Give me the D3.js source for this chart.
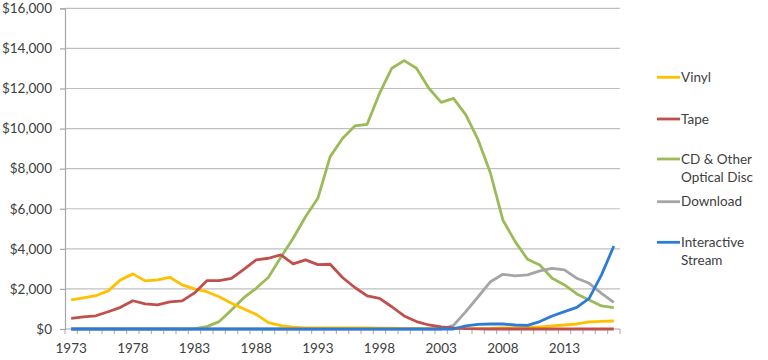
<!DOCTYPE html>
<html>
<head>
<meta charset="utf-8">
<script src="https://cdn.jsdelivr.net/npm/d3@7"></script>
<style>
  html, body { margin: 0; padding: 0; background: #fff; }
  svg { display: block; }
  text { font-family: Lato, "Open Sans", sans-serif; }
</style>
</head>
<body>
<svg id="chart" width="768" height="360"></svg>
<script>
const years = d3.range(1973, 2018);
const tickYears = [1973, 1978, 1983, 1988, 1993, 1998, 2003, 2008, 2013];
const yTicks = [0, 2000, 4000, 6000, 8000, 10000, 12000, 14000, 16000];

const vinyl = [1450, 1550, 1660, 1900, 2450, 2750, 2400, 2450, 2580, 2200,
  2000, 1860, 1610, 1280, 1000, 730, 320, 170, 90, 60,
  50, 50, 50, 50, 50, 40, 40, 30, 30, 20,
  20, 20, 20, 20, 30, 60, 60, 90, 110, 150,
  200, 250, 350, 380, 400];
const tape = [530, 610, 660, 860, 1080, 1410, 1250, 1200, 1350, 1400,
  1800, 2410, 2410, 2530, 2980, 3450, 3530, 3700, 3250, 3450,
  3210, 3230, 2570, 2070, 1650, 1530, 1110, 650, 370, 200,
  100, 50, 20, 10, 0, 0, 0, 0, 0, 0,
  0, 0, 0, 0, 0];
const cd = [0, 0, 0, 0, 0, 0, 0, 0, 0, 0,
  20, 120, 370, 950, 1560, 2030, 2580, 3580, 4530, 5600,
  6520, 8600, 9500, 10130, 10210, 11750, 13010, 13390, 13010, 12010,
  11310, 11510, 10680, 9430, 7770, 5440, 4360, 3480, 3190, 2530,
  2200, 1750, 1450, 1150, 1070];
const download = [0, 0, 0, 0, 0, 0, 0, 0, 0, 0,
  0, 0, 0, 0, 0, 0, 0, 0, 0, 0,
  0, 0, 0, 0, 0, 0, 0, 0, 0, 0,
  0, 180, 870, 1610, 2360, 2730, 2650, 2700, 2900, 3030,
  2950, 2530, 2280, 1780, 1330];
const stream = [0, 0, 0, 0, 0, 0, 0, 0, 0, 0,
  0, 0, 0, 0, 0, 0, 0, 0, 0, 0,
  0, 0, 0, 0, 0, 0, 0, 0, 0, 0,
  0, 0, 160, 230, 250, 250, 200, 180, 370, 650,
  870, 1080, 1530, 2700, 4140];

const seriesNames = ["Vinyl", "Tape", "CD & Other Optical Disc", "Download", "Interactive Stream"];
const seriesLabelLines = [["Vinyl"], ["Tape"], ["CD & Other", "Optical Disc"], ["Download"], ["Interactive", "Stream"]];
const seriesColors = ["#FFC000", "#C0504D", "#9BBB59", "#A5A5A5", "#2E7BD6"];
const seriesValues = [vinyl, tape, cd, download, stream];
const drawOrder = [2, 3, 0, 1, 4];

(function () {
const svg = d3.select("#chart");
const mLeft = 65, mRight = 620, mTop = 8.3, mBottom = 329;

const x = d3.scaleBand().domain(years).range([mLeft, mRight]).paddingInner(0).paddingOuter(0);
const y = d3.scaleLinear().domain([0, 16000]).range([mBottom, mTop]);

svg.append("g").selectAll("line").data(yTicks.filter(d => d > 0)).join("line")
  .attr("x1", mLeft).attr("x2", mRight)
  .attr("y1", d => y(d)).attr("y2", d => y(d))
  .attr("stroke", "#BFBFBF").attr("stroke-width", 1.2);

const yAxis = d3.axisLeft(y).tickValues(yTicks).tickSize(5).tickPadding(8)
  .tickFormat(d => "$" + d3.format(",")(d));
const gy = svg.append("g").attr("transform", `translate(${mLeft},0)`).call(yAxis);
gy.select(".domain").attr("stroke", "#A6A6A6").attr("stroke-width", 1.2);
gy.selectAll(".tick line").attr("stroke", "#A6A6A6").attr("stroke-width", 1.2);
gy.selectAll(".tick text").attr("fill", "#404040").style("font-size", "13.5px")
  .style("font-family", "Lato, sans-serif");

const gx = svg.append("g");
gx.append("line").attr("x1", mLeft).attr("x2", mRight).attr("y1", mBottom).attr("y2", mBottom)
  .attr("stroke", "#A6A6A6").attr("stroke-width", 1.2);
const boundaries = years.map(d => x(d)).concat([x(years[years.length - 1]) + x.bandwidth()]);
gx.selectAll("line.tk").data(boundaries).join("line").attr("class", "tk")
  .attr("x1", d => d).attr("x2", d => d).attr("y1", mBottom).attr("y2", mBottom + 5)
  .attr("stroke", "#A6A6A6").attr("stroke-width", 1);
gx.selectAll("text").data(tickYears).join("text")
  .attr("x", d => x(d) + x.bandwidth() / 2).attr("y", 348)
  .attr("dy", "0.35em").attr("text-anchor", "middle")
  .attr("fill", "#404040").style("font-size", "13.5px").text(d => d);

const line = d3.line()
  .x((d, i) => x(years[i]) + x.bandwidth() / 2)
  .y(d => y(d));
svg.append("g").selectAll("path").data(drawOrder).join("path")
  .attr("d", k => line(seriesValues[k]))
  .attr("fill", "none")
  .attr("stroke", k => seriesColors[k])
  .attr("stroke-width", 2.8)
  .attr("stroke-linejoin", "round");

const legendY = [77.3, 119, 159, 201.7, 242.3];
const lg = svg.append("g");
seriesNames.forEach((name, i) => {
  lg.append("line").attr("x1", 657).attr("x2", 680)
    .attr("y1", legendY[i]).attr("y2", legendY[i])
    .attr("stroke", seriesColors[i]).attr("stroke-width", 2.8);
  const t = lg.append("text").attr("x", 681).attr("y", legendY[i])
    .attr("fill", "#404040").style("font-size", "13.5px");
  seriesLabelLines[i].forEach((ln, j) => {
    t.append("tspan").attr("x", 681).attr("dy", j === 0 ? "0.35em" : "18px").text(ln);
  });
});
})();
</script>
</body>
</html>
